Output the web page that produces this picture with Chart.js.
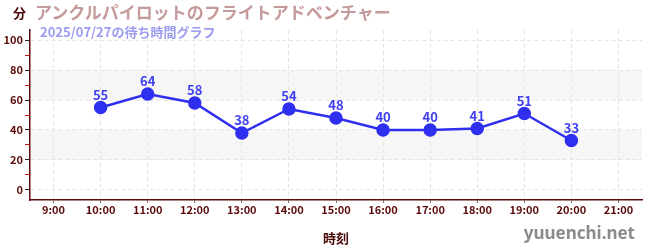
<!DOCTYPE html>
<html>
<head>
<meta charset="utf-8">
<script src="https://cdn.jsdelivr.net/npm/chart.js@4"></script>
<style>
  html, body { margin: 0; padding: 0; background: #fff; }
  #wrap { position: relative; width: 650px; height: 250px; }
  .txt { position: absolute; font-family: "Noto Sans CJK JP", "Noto Sans", sans-serif; white-space: nowrap; line-height: 1; }
  #unit { left: 13px; top: 6px; font-size: 13px; font-weight: bold; color: #4a0a0a; }
  #title { left: 35px; top: 3px; font-size: 17px; font-weight: bold; color: #c49a9a; }
  #sub { left: 40px; top: 25px; font-size: 13px; font-weight: bold; color: #9c9cf0; }
  #mark { right: 15px; top: 224px; font-size: 17px; font-weight: bold; color: #8c8c8c; font-family: "Noto Sans", sans-serif; }
</style>
</head>
<body>
<div id="wrap">
  <canvas id="chart" width="650" height="250"></canvas>
  <div class="txt" id="unit">分</div>
  <div class="txt" id="title">アンクルパイロットのフライトアドベンチャー</div>
  <div class="txt" id="sub">2025/07/27の待ち時間グラフ</div>
  <div class="txt" id="mark">yuuenchi.net</div>
</div>
<script>
// ── Data ────────────────────────────────────────────────────────────────
const hours = ['9:00', '10:00', '11:00', '12:00', '13:00', '14:00', '15:00',
               '16:00', '17:00', '18:00', '19:00', '20:00', '21:00'];
const waits = [null, 55, 64, 58, 38, 54, 48, 40, 40, 41, 51, 33, null];

const AXIS   = '#5a0a0a';
const BLUE   = '#2f2ff0';
const FONT   = '"Noto Sans CJK JP", "Noto Sans", sans-serif';

// ── Plugins ─────────────────────────────────────────────────────────────
// shaded bands drawn before the grid so the dashed lines stay visible
const bands = {
    id: 'bands',
    beforeDraw(chart) {
        const { ctx, chartArea: a, scales: { y } } = chart;
        ctx.save();
        ctx.fillStyle = '#f6f6f6';
        [[20, 40], [60, 80]].forEach(([lo, hi]) => {
            const top = y.getPixelForValue(hi), bot = y.getPixelForValue(lo);
            ctx.fillRect(a.left + 1, top, a.right - a.left - 1, bot - top);
        });
        ctx.restore();
    }
};

const valueLabels = {
    id: 'valueLabels',
    afterDatasetsDraw(chart) {
        const { ctx } = chart;
        const meta = chart.getDatasetMeta(0);
        ctx.save();
        ctx.font = 'bold 13px ' + FONT;
        ctx.fillStyle = '#4040f0';
        ctx.textAlign = 'center';
        ctx.textBaseline = 'bottom';
        meta.data.forEach((pt, i) => {
            if (waits[i] == null) return;
            ctx.fillText(String(waits[i]), pt.x, pt.y - 6);
        });
        ctx.restore();
    }
};

// ── Chart ───────────────────────────────────────────────────────────────
new Chart(document.getElementById('chart'), {
    type: 'line',
    data: {
        labels: hours,
        datasets: [{
            data: waits,
            borderColor: BLUE,
            backgroundColor: BLUE,
            borderWidth: 2.5,
            pointRadius: 5.5,
            pointHoverRadius: 5.5,
            tension: 0,
            spanGaps: false
        }]
    },
    options: {
        responsive: false,
        animation: false,
        layout: { padding: { top: 30, right: 8, left: 0, bottom: 0 } },
        plugins: {
            legend: { display: false },
            tooltip: { enabled: false }
        },
        scales: {
            x: {
                offset: true,
                afterFit: s => { s.height = 50; },
                border: { color: AXIS, width: 1.5, dash: [4, 3] },
                grid: {
                    offset: false,
                    color: '#e4e4e4',
                    tickColor: '#777',
                    tickLength: 3
                },
                ticks: { color: AXIS, font: { family: FONT, size: 11, weight: 'bold' }, padding: 0, maxRotation: 0 },
                title: {
                    display: true, text: '時刻', color: '#4a0a0a',
                    font: { family: FONT, size: 13, weight: 'bold' },
                    padding: { top: 6 }
                }
            },
            y: {
                min: -6.67,
                max: 106.67,
                afterFit: s => { s.width = 30; },
                border: { color: AXIS, width: 1.5, dash: [4, 3] },
                grid: {
                    color: c => (c.tick && c.tick.value % 20 === 0) ? '#e4e4e4' : 'rgba(0,0,0,0)',
                    tickColor: c => (c.tick && c.tick.value % 20 === 0) ? '#222' : '#d01010',
                    tickLength: 5
                },
                ticks: {
                    stepSize: 10,
                    includeBounds: false,
                    color: AXIS,
                    padding: 2,
                    font: { family: FONT, size: 11, weight: 'bold' },
                    callback: v => (v % 20 === 0 ? v : '')
                }
            }
        }
    },
    plugins: [bands, valueLabels]
});
</script>
</body>
</html>
